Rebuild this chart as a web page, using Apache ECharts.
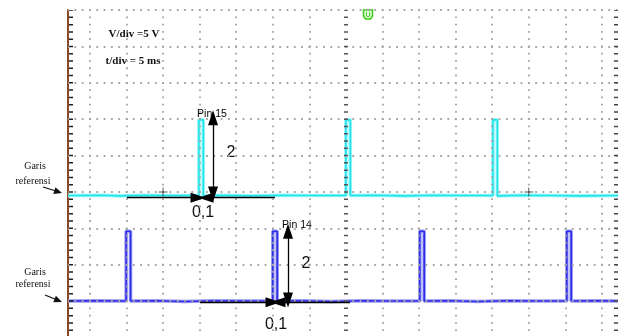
<!DOCTYPE html>
<html><head><meta charset="utf-8">
<script src="https://cdn.jsdelivr.net/npm/echarts@6/dist/echarts.min.js"></script>
<style>html,body{margin:0;padding:0;background:#fff}#c{width:621px;height:336px}</style>
</head><body><div id="c"></div>
<script>
// time in ms (5 ms/div), voltage in V (5 V/div)
const pin15Time = [-3, 1.5, 4, 7.5, 11, 14.9, 14.9, 15.5, 15.5, 18, 22, 26, 30, 35.0, 35.0, 35.6, 35.6, 39, 43, 47, 51, 55.1, 55.1, 55.7, 55.7, 59, 63, 67, 72.2];
const pin15Volt = [14.5, 14.55, 14.45, 14.55, 14.5, 14.5, 24.9, 24.9, 14.45, 14.55, 14.45, 14.55, 14.5, 14.5, 24.9, 24.9, 14.5, 14.55, 14.45, 14.55, 14.5, 14.5, 24.9, 24.9, 14.45, 14.55, 14.5, 14.45, 14.5];
const pin14Time = [-3, 1, 4.95, 4.95, 5.55, 5.55, 9, 13, 17, 21, 25.0, 25.0, 25.6, 25.6, 29, 33, 37, 41, 45.1, 45.1, 45.7, 45.7, 49, 53, 57, 61, 65.2, 65.2, 65.8, 65.8, 69, 72.2];
const pin14Volt = [0.0, 0.05, 0.0, 9.6, 9.6, 0.0, 0.05, -0.05, 0.05, 0.0, 0.0, 9.6, 9.6, 0.0, 0.05, -0.05, 0.05, 0.0, 0.0, 9.6, 9.6, 0.0, 0.05, -0.05, 0.05, 0.0, 0.0, 9.6, 9.6, 0.0, 0.05, 0.0];
const gridTimes = [0, 5, 10, 15, 20, 25, 30, 35, 40, 45, 50, 55, 60, 65, 70];
const gridVolts = [0, 5, 10, 15, 20, 25, 30, 35, 40];
const triggerTimes = [10, 60];
const triggerVolts = [15, 15];

const zip = (a, b) => a.map((v, i) => [v, b[i]]);
const chart = echarts.init(document.getElementById('c'), null, {renderer: 'canvas'});

const dotH = {color: '#a4a4a4', width: 1.8, type: [1.8, 5.514], dashOffset: 0.9};
const dotV = {color: '#a4a4a4', width: 1.8, type: [1.8, 5.475], dashOffset: 2.3};
const ml = (data, style) => ({silent: true, symbol: 'none', animation: false, label: {show: false}, lineStyle: style, emphasis: {disabled: true}, data});

const arrowStyle = {color: '#000', width: 1.3, type: 'solid'};
const arrow = (a, b, s0, s1) => [{coord: a, symbol: s0}, {coord: b, symbol: s1}];

chart.setOption({
  animation: false,
  grid: {left: 68, right: 3, top: 10, bottom: 0},
  xAxis: {type: 'value', min: -3, max: 72.2, show: false},
  yAxis: {type: 'value', min: -4.8, max: 40, axisLine: {show: true, onZero: false, lineStyle: {color: '#8a4a2a', width: 2}}, axisTick: {show: false}, axisLabel: {show: false}, splitLine: {show: false}},
  series: [
    {type: 'line', data: [], markLine: ml(gridVolts.map(v => ({yAxis: v})), dotH)},
    {type: 'line', data: [], markLine: ml(gridTimes.filter(t => t !== 35).map(t => ({xAxis: t})), dotV)},
    {type: 'line', data: [], markLine: ml([{xAxis: 35}], {color: '#555', width: 4, type: [1.5, 5.775], dashOffset: 2.2})},
    {type: 'line', data: [], markLine: ml([{xAxis: 71.95}], {color: '#444', width: 4, type: [1.5, 5.775], dashOffset: 2.2})},
    {type: 'line', data: [], markLine: ml([{xAxis: -2.68}], {color: '#222', width: 4, type: [1.5, 5.775], dashOffset: 2.2})},
    {type: 'line', data: zip(pin15Time, pin15Volt), showSymbol: false, lineStyle: {color: '#9af6f8', width: 3.6}, silent: true},
    {type: 'line', data: zip(pin15Time, pin15Volt), showSymbol: false, lineStyle: {color: '#22e4ec', width: 1.6}, silent: true},
    {type: 'line', data: zip(pin14Time, pin14Volt), showSymbol: false, lineStyle: {color: '#9a9af6', width: 3.6}, silent: true},
    {type: 'line', data: zip(pin14Time, pin14Volt), showSymbol: false, lineStyle: {color: '#2f2fe6', width: 1.6}, silent: true},
    {type: 'scatter', data: zip(triggerTimes, triggerVolts), symbol: 'path://M4,0H5V4H9V5H5V9H4V5H0V4H4Z', symbolSize: 9, itemStyle: {color: '#333'}, silent: true, z: 5},
    {type: 'line', data: [], z: 6, markLine: {silent: true, animation: false, label: {show: false}, symbolSize: [10, 15], lineStyle: arrowStyle, emphasis: {disabled: true},
      data: [
        arrow([16.83, 25.2], [16.83, 14.7], 'triangle', 'triangle'),
        arrow([5.07, 14.2], [14.78, 14.2], 'none', 'triangle'),
        arrow([25.3, 14.2], [15.87, 14.2], 'none', 'triangle'),
        arrow([27.08, 9.6], [27.08, 0.15], 'triangle', 'triangle'),
        arrow([15.05, -0.15], [25.03, -0.15], 'none', 'triangle'),
        arrow([35.56, -0.15], [25.71, -0.15], 'none', 'triangle')
      ]}}
  ],
  graphic: [
    {type: 'text', style: {x: 134, y: 34, text: 'V/div =5 V', font: 'bold 11px "Liberation Serif"', fill: '#111', textAlign: 'center', textVerticalAlign: 'middle'}},
    {type: 'text', style: {x: 133, y: 61, text: 't/div = 5 ms', font: 'bold 11px "Liberation Serif"', fill: '#111', textAlign: 'center', textVerticalAlign: 'middle'}},
    {type: 'text', style: {x: 35, y: 166, text: 'Garis', font: '10px "Liberation Serif"', fill: '#111', textAlign: 'center', textVerticalAlign: 'middle'}},
    {type: 'text', style: {x: 33, y: 181, text: 'referensi', font: '10px "Liberation Serif"', fill: '#111', textAlign: 'center', textVerticalAlign: 'middle'}},
    {type: 'text', style: {x: 35, y: 272, text: 'Garis', font: '10px "Liberation Serif"', fill: '#111', textAlign: 'center', textVerticalAlign: 'middle'}},
    {type: 'text', style: {x: 33, y: 284, text: 'referensi', font: '10px "Liberation Serif"', fill: '#111', textAlign: 'center', textVerticalAlign: 'middle'}},
    {type: 'line', shape: {x1: 43, y1: 187, x2: 56, y2: 191}, style: {stroke: '#111', lineWidth: 1.3}},
    {type: 'polygon', shape: {points: [[62, 193], [53.3, 193.9], [55.4, 187.3]]}, style: {fill: '#111'}},
    {type: 'line', shape: {x1: 45, y1: 295, x2: 56, y2: 299.5}, style: {stroke: '#111', lineWidth: 1.3}},
    {type: 'polygon', shape: {points: [[62, 302], [53.3, 302.2], [55.9, 295.7]]}, style: {fill: '#111'}},
    {type: 'text', style: {x: 212, y: 114, text: 'Pin 15', font: '10.5px "Liberation Sans"', fill: '#000', textAlign: 'center', textVerticalAlign: 'middle'}},
    {type: 'text', style: {x: 297, y: 225, text: 'Pin 14', font: '10.5px "Liberation Sans"', fill: '#000', textAlign: 'center', textVerticalAlign: 'middle'}},
    {type: 'text', style: {x: 231, y: 153, text: '2', font: '16px "Liberation Sans"', fill: '#111', textAlign: 'center', textVerticalAlign: 'middle'}},
    {type: 'text', style: {x: 306, y: 264, text: '2', font: '16px "Liberation Sans"', fill: '#111', textAlign: 'center', textVerticalAlign: 'middle'}},
    {type: 'text', style: {x: 203, y: 213, text: '0,1', font: '16px "Liberation Sans"', fill: '#111', textAlign: 'center', textVerticalAlign: 'middle'}},
    {type: 'text', style: {x: 276, y: 325, text: '0,1', font: '16px "Liberation Sans"', fill: '#111', textAlign: 'center', textVerticalAlign: 'middle'}},
    {type: 'group', x: 368, y: 14, children: [
      {type: 'polygon', shape: {points: [[-4.5, -4], [4.5, -4], [4.5, 2], [2.5, 5], [-2.5, 5], [-4.5, 2]]}, style: {stroke: '#3ccc1e', lineWidth: 1.6, fill: '#e8ffe0'}},
      {type: 'text', style: {x: 0, y: 0.8, text: 'U', font: 'bold 7px "Liberation Sans"', fill: '#3ccc1e', textAlign: 'center', textVerticalAlign: 'middle'}}
    ]}
  ]
});
</script></body></html>
